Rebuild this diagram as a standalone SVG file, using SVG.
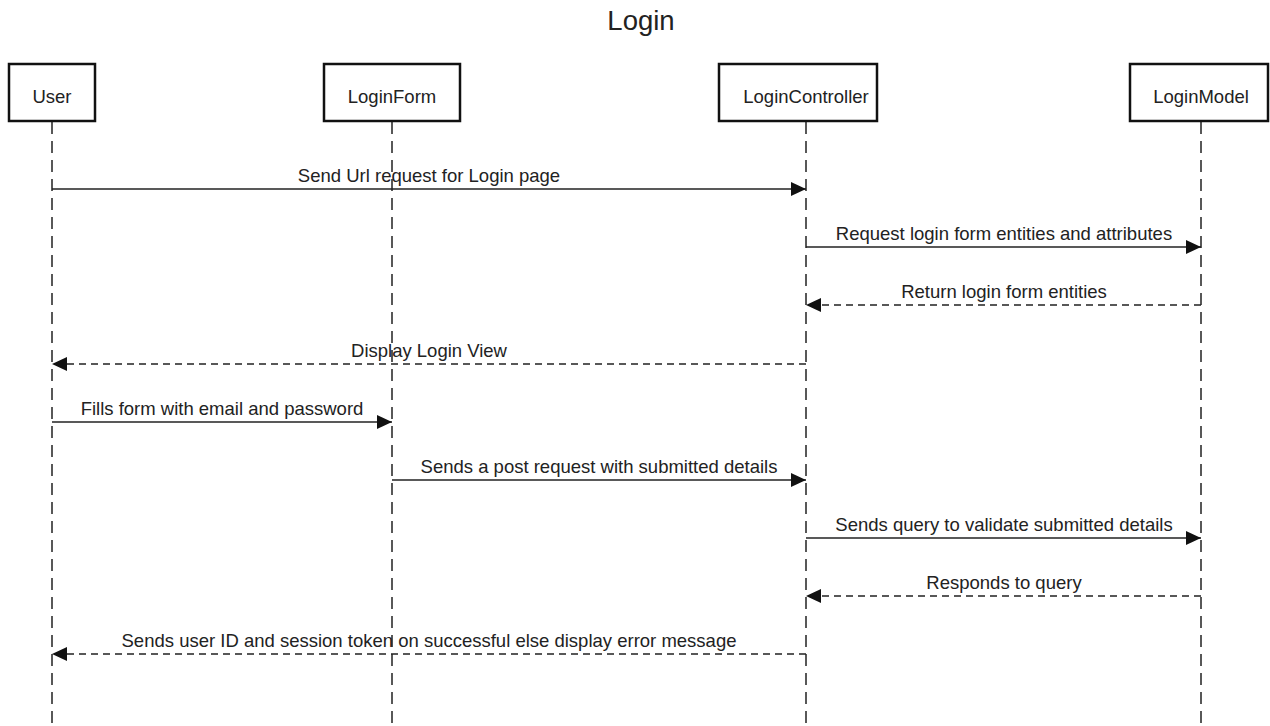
<svg xmlns="http://www.w3.org/2000/svg" width="1270" height="726" viewBox="0 0 1270 726">
<style>
text{font-family:"Liberation Sans",Arial,sans-serif;fill:#222}
.box{fill:#fff;stroke:#111;stroke-width:2.5}
.lbl{font-size:18.5px;text-anchor:middle}
.life{stroke:#222;stroke-width:1.5;stroke-dasharray:12 7;fill:none}
.msg{stroke:#222;stroke-width:1.5;fill:none}
.ret{stroke:#222;stroke-width:1.5;fill:none;stroke-dasharray:7 5}
.ml{font-size:18.5px;text-anchor:middle}
</style>
<defs>
<marker id="ah" markerWidth="16" markerHeight="14" refX="15" refY="7" orient="auto" markerUnits="userSpaceOnUse">
<path d="M0,0 L15,7 L0,14 Z" fill="#111"/>
</marker>
</defs>
<rect width="1270" height="726" fill="#fff"/>
<text x="641" y="30" font-size="27.5" text-anchor="middle">Login</text>
<g id="lifelines">
<line class="life" x1="52" y1="122" x2="52" y2="726"/>
<line class="life" x1="392" y1="122" x2="392" y2="726"/>
<line class="life" x1="806" y1="122" x2="806" y2="726"/>
<line class="life" x1="1201" y1="122" x2="1201" y2="726"/>
</g>
<g id="User"><rect class="box" x="9" y="64" width="86" height="57"/><text class="lbl" x="52" y="103">User</text></g>
<g id="LoginForm"><rect class="box" x="324" y="64" width="136" height="57"/><text class="lbl" x="392" y="103">LoginForm</text></g>
<g id="LoginController"><rect class="box" x="719" y="64" width="158" height="57"/><text class="lbl" x="806" y="103">LoginController</text></g>
<g id="LoginModel"><rect class="box" x="1130" y="64" width="138" height="57"/><text class="lbl" x="1201" y="103">LoginModel</text></g>
<g id="connectors">
<line class="msg" x1="52" y1="189" x2="806" y2="189" marker-end="url(#ah)"/>
<text class="ml" x="429" y="182">Send Url request for Login page</text>
<line class="msg" x1="806" y1="247" x2="1201" y2="247" marker-end="url(#ah)"/>
<text class="ml" x="1004" y="240">Request login form entities and attributes</text>
<line class="ret" x1="1201" y1="305" x2="806" y2="305" marker-end="url(#ah)"/>
<text class="ml" x="1004" y="298">Return login form entities</text>
<line class="ret" x1="806" y1="364" x2="52" y2="364" marker-end="url(#ah)"/>
<text class="ml" x="429" y="357">Display Login View</text>
<line class="msg" x1="52" y1="422" x2="392" y2="422" marker-end="url(#ah)"/>
<text class="ml" x="222" y="415">Fills form with email and password</text>
<line class="msg" x1="392" y1="480" x2="806" y2="480" marker-end="url(#ah)"/>
<text class="ml" x="599" y="473">Sends a post request with submitted details</text>
<line class="msg" x1="806" y1="538" x2="1201" y2="538" marker-end="url(#ah)"/>
<text class="ml" x="1004" y="531">Sends query to validate submitted details</text>
<line class="ret" x1="1201" y1="596" x2="806" y2="596" marker-end="url(#ah)"/>
<text class="ml" x="1004" y="589">Responds to query</text>
<line class="ret" x1="806" y1="654" x2="52" y2="654" marker-end="url(#ah)"/>
<text class="ml" x="429" y="647">Sends user ID and session token on successful else display error message</text>
</g>
</svg>
